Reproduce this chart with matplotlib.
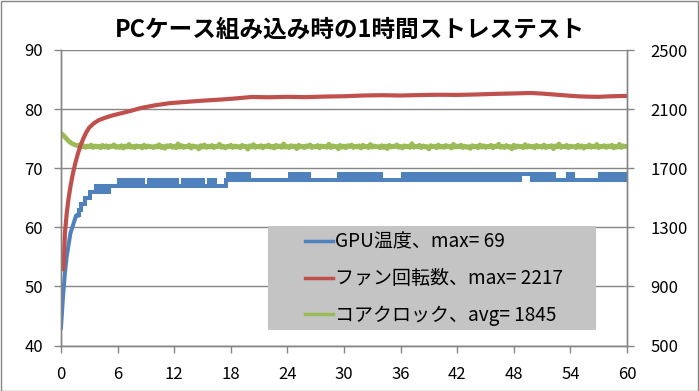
import numpy as np
import matplotlib
matplotlib.use('Agg')
import matplotlib.pyplot as plt
from matplotlib.patches import Rectangle
from matplotlib.lines import Line2D

plt.rcParams['font.family'] = ['Noto Sans CJK JP', 'DejaVu Sans']

title = 'PCケース組み込み時の1時間ストレステスト'
series_labels = ['GPU温度、max= 69', 'ファン回転数、max= 2217', 'コアクロック、avg= 1845']
x_ticks = [0, 6, 12, 18, 24, 30, 36, 42, 48, 54, 60]
left_ticks = [40, 50, 60, 70, 80, 90]
right_ticks = [500, 900, 1300, 1700, 2100, 2500]

# sampling times (minutes), 0.2 min step
time_min = np.linspace(0, 60, 301)

gpu_temp = [
    43, 48, 52, 55, 57, 59, 60, 61, 62, 62,
    63, 64, 64, 65, 65, 65, 66, 66, 66, 67,
    66, 67, 66, 67, 67, 66, 67, 67, 67, 67,
    67, 68, 67, 68, 67, 68, 67, 68, 67, 68,
    67, 68, 67, 68, 67, 67, 67, 68, 67, 68,
    67, 68, 67, 68, 67, 68, 67, 68, 67, 68,
    67, 68, 67, 67, 67, 68, 67, 68, 67, 68,
    67, 68, 67, 68, 67, 68, 67, 67, 67, 68,
    67, 68, 67, 67, 67, 67, 67, 67, 68, 69,
    68, 69, 68, 69, 68, 69, 68, 69, 68, 69,
    68, 68, 68, 68, 68, 68, 68, 68, 68, 68,
    68, 68, 68, 68, 68, 68, 68, 68, 68, 68,
    68, 68, 69, 68, 69, 68, 69, 68, 68, 69,
    68, 69, 68, 68, 68, 68, 68, 68, 68, 68,
    68, 68, 68, 68, 68, 68, 68, 68, 69, 68,
    69, 68, 69, 68, 69, 68, 69, 68, 69, 68,
    69, 68, 69, 68, 69, 68, 69, 68, 68, 69,
    68, 68, 68, 68, 68, 68, 68, 68, 68, 68,
    68, 68, 69, 68, 69, 68, 69, 68, 69, 68,
    69, 68, 69, 68, 69, 68, 69, 68, 69, 68,
    69, 68, 69, 68, 69, 68, 69, 68, 69, 68,
    69, 68, 69, 68, 69, 68, 69, 68, 69, 68,
    69, 68, 69, 68, 69, 68, 69, 68, 69, 68,
    69, 68, 69, 68, 69, 68, 69, 68, 69, 68,
    69, 68, 69, 68, 69, 69, 69, 69, 69, 69,
    68, 69, 68, 69, 68, 69, 68, 69, 68, 69,
    68, 69, 68, 68, 68, 68, 68, 68, 68, 69,
    68, 69, 68, 68, 68, 68, 68, 68, 68, 68,
    68, 68, 68, 68, 68, 68, 69, 68, 69, 68,
    68, 69, 68, 69, 68, 69, 68, 69, 68, 69,
    68,
]

core_clock = [
    1935, 1926, 1912, 1897, 1884, 1874, 1866, 1860, 1856, 1852,
    1856, 1844, 1853, 1841, 1850, 1845, 1857, 1840, 1851, 1843,
    1849, 1838, 1855, 1842, 1852, 1839, 1850, 1846, 1858, 1841,
    1847, 1840, 1853, 1836, 1850, 1843, 1861, 1842, 1849, 1838,
    1852, 1845, 1848, 1837, 1856, 1841, 1851, 1844, 1847, 1839,
    1850, 1843, 1859, 1840, 1848, 1834, 1852, 1846, 1855, 1841,
    1849, 1838, 1865, 1842, 1853, 1840, 1848, 1845, 1857, 1836,
    1851, 1844, 1847, 1830, 1853, 1842, 1858, 1840, 1850, 1843,
    1854, 1839, 1849, 1845, 1862, 1841, 1850, 1837, 1848, 1844,
    1856, 1840, 1851, 1843, 1847, 1838, 1855, 1846, 1849, 1829,
    1852, 1844, 1860, 1840, 1848, 1843, 1853, 1837, 1850, 1845,
    1857, 1841, 1849, 1836, 1855, 1844, 1851, 1840, 1864, 1842,
    1848, 1839, 1853, 1845, 1850, 1832, 1856, 1843, 1849, 1838,
    1852, 1846, 1858, 1840, 1847, 1843, 1854, 1837, 1851, 1844,
    1849, 1841, 1863, 1839, 1852, 1845, 1848, 1831, 1855, 1842,
    1850, 1838, 1853, 1846, 1857, 1840, 1849, 1843, 1852, 1836,
    1856, 1844, 1848, 1839, 1861, 1842, 1851, 1845, 1847, 1838,
    1853, 1840, 1850, 1833, 1855, 1843, 1849, 1846, 1858, 1841,
    1848, 1837, 1852, 1844, 1850, 1840, 1866, 1842, 1849, 1845,
    1855, 1839, 1851, 1843, 1847, 1830, 1853, 1846, 1850, 1838,
    1857, 1842, 1849, 1840, 1854, 1845, 1848, 1836, 1862, 1843,
    1851, 1844, 1856, 1839, 1850, 1841, 1847, 1834, 1853, 1845,
    1849, 1838, 1858, 1843, 1852, 1840, 1848, 1846, 1855, 1837,
    1850, 1845, 1863, 1841, 1849, 1839, 1854, 1843, 1847, 1831,
    1856, 1840, 1851, 1846, 1848, 1838, 1860, 1842, 1852, 1844,
    1849, 1837, 1855, 1843, 1850, 1841, 1857, 1839, 1848, 1845,
    1853, 1832, 1851, 1844, 1864, 1840, 1849, 1843, 1855, 1838,
    1850, 1846, 1847, 1839, 1856, 1842, 1852, 1835, 1849, 1844,
    1858, 1841, 1850, 1843, 1861, 1838, 1848, 1845, 1853, 1840,
    1851, 1844, 1856, 1837, 1849, 1842, 1862, 1840, 1852, 1846,
    1848,
]

fan_time = [0, 0.25, 0.3, 0.42, 0.6, 0.8, 1.0, 1.2, 1.5, 1.8, 2.1, 2.4, 2.7,
            3.0, 3.5, 4.0, 4.7, 5.5, 6.4, 7.5, 8.5, 10, 11.5, 13.5, 15, 17,
            18.5, 20.2, 22, 24, 26, 28, 30, 32, 34, 36, 38, 40, 42, 44, 46,
            48, 49.8, 51, 52, 53, 54, 55, 56, 57, 58, 59, 60]
fan_rpm = [1016, 1016, 1070, 1262, 1390, 1495, 1575, 1645, 1730, 1800, 1860,
           1905, 1945, 1975, 2005, 2025, 2042, 2058, 2072, 2090, 2108, 2126,
           2140, 2150, 2157, 2165, 2172, 2182, 2180, 2183, 2181, 2185, 2187,
           2192, 2194, 2192, 2195, 2197, 2196, 2199, 2203, 2206, 2209, 2205,
           2200, 2195, 2190, 2186, 2184, 2183, 2186, 2188, 2189]

c_blue = '#4F81BD'
c_red = '#C0504D'
c_green = '#9BBB59'
c_grid = '#868686'

W, H = 699, 391
fig = plt.figure(figsize=(W / 100, H / 100), dpi=100)
ax = fig.add_axes([61 / W, 1 - 345.5 / H, 566 / W, 295.5 / H])
ax2 = ax.twinx()

ax.set_xlim(0, 60)
ax.set_ylim(40, 90)
ax2.set_ylim(500, 2500)
ax.set_xticks(x_ticks)
ax.set_yticks(left_ticks)
ax2.set_yticks(right_ticks)

ax.grid(axis='y', color=c_grid, lw=1)
ax.set_axisbelow(True)

lw = 2.9
ramp = 9  # fast warm-up part drawn as a plain line, the rest as steps
ax.plot(time_min[:ramp + 1], gpu_temp[:ramp + 1], color=c_blue, lw=lw)
ax.plot(time_min[ramp:], gpu_temp[ramp:], color=c_blue, lw=lw,
        drawstyle='steps-mid', solid_joinstyle='miter')
ax2.plot(time_min, core_clock, color=c_green, lw=3.4)
ax2.plot(fan_time, fan_rpm, color=c_red, lw=3.0)

for a in (ax, ax2):
    for s in a.spines.values():
        s.set_color(c_grid)
        s.set_linewidth(1)
    a.spines['top'].set_visible(False)
ax.tick_params(axis='x', direction='out', length=5, width=1, color=c_grid,
               labelsize=12, pad=10)
ax.tick_params(axis='y', direction='out', length=5, width=1, color=c_grid,
               labelsize=12, pad=8)
ax2.tick_params(axis='y', direction='out', length=5, width=1, color=c_grid,
                labelsize=12, pad=12)

# legend box
ax2.add_patch(Rectangle((0.366, 0.052), 0.579, 0.352, transform=ax2.transAxes,
                        facecolor='#c4c4c4', edgecolor='none', zorder=5))
handles = [Line2D([], [], color=c, lw=2.5) for c in (c_blue, c_red, c_green)]
leg = ax2.legend(handles, series_labels, loc='center left',
                 bbox_to_anchor=(0.431, 0.226), frameon=False, fontsize=13.7,
                 handlelength=1.45, handletextpad=0.12, labelspacing=0.82,
                 borderpad=0, borderaxespad=0)
leg.set_zorder(6)

fig.text(0.5, 1 - 30 / H, title, ha='center', va='center', fontsize=17,
         fontweight='bold')

fig.patches.append(Rectangle((0.5 / W, 0.5 / H), 1 - 1.5 / W, 1 - 1.5 / H,
                             transform=fig.transFigure, fill=False,
                             edgecolor=c_grid, lw=1))

fig.savefig('out.png', dpi=100)
